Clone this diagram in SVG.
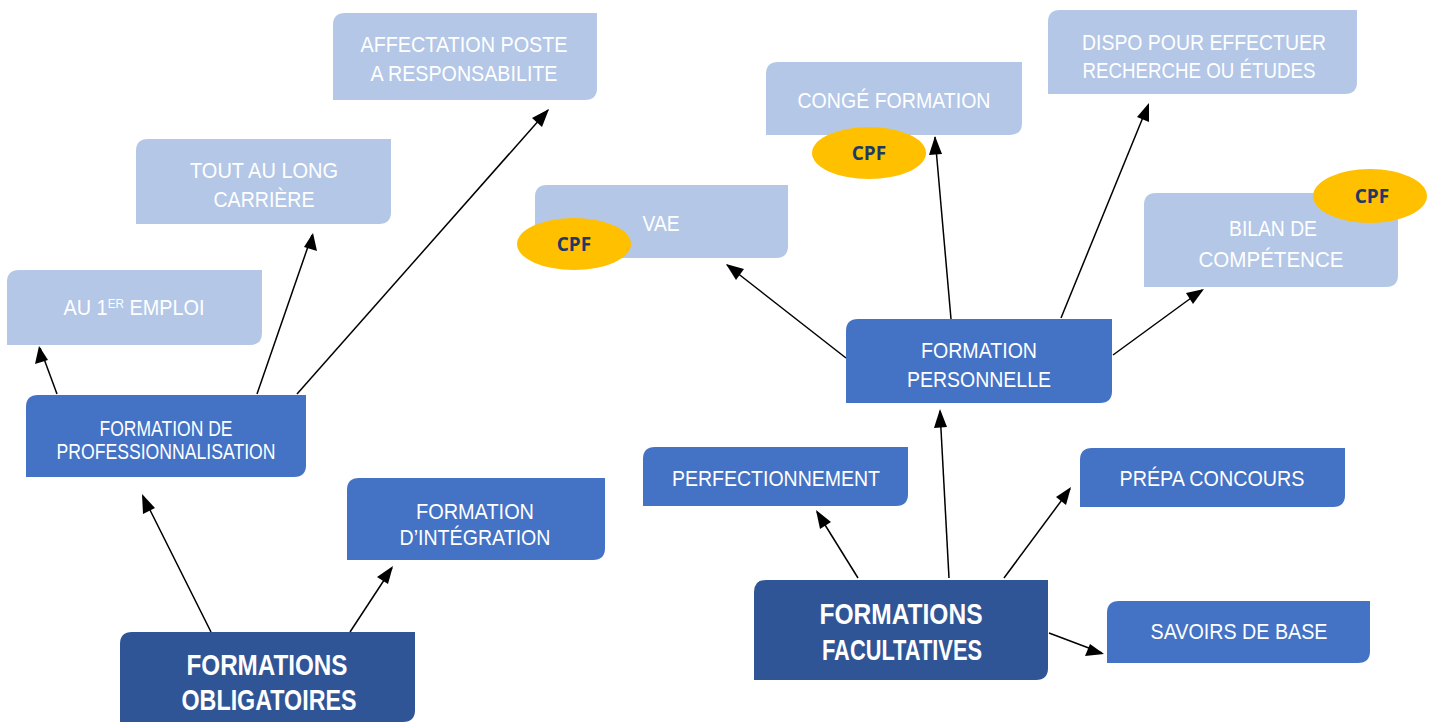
<svg xmlns="http://www.w3.org/2000/svg" width="1435" height="724" viewBox="0 0 1435 724">
<defs>
<style>
.light{fill:#B4C7E7}
.mid{fill:#4472C4}
.dark{fill:#2F5597}
.t{font-family:"Liberation Sans",Arial,sans-serif;font-size:22px;fill:#fff;text-anchor:middle}
.tb{font-family:"Liberation Sans",Arial,sans-serif;font-size:30px;font-weight:bold;fill:#fff;text-anchor:middle}
.cpf{fill:#FFC000}
.ct{font-family:"Open Sans","Liberation Sans",sans-serif;font-size:19px;font-weight:bold;fill:#1F3864;text-anchor:middle}
.c{stroke:#000;stroke-width:1.5;fill:none}
.h{fill:#000}
</style>
</defs>
<rect width="1435" height="724" fill="#fff"/>
<g id="connectors">
<line class="c" x1="57" y1="394" x2="40" y2="348"/>
<path class="h" d="M39,346 L48,360 L35,364 Z"/>
<line class="c" x1="257" y1="394" x2="312" y2="235"/>
<path class="h" d="M313,233 L317,251 L304,247 Z"/>
<line class="c" x1="297" y1="394" x2="548" y2="110"/>
<path class="h" d="M549,109 L542,127 L532,118 Z"/>
<line class="c" x1="211" y1="632" x2="143" y2="496"/>
<path class="h" d="M142,494 L155,508 L143,514 Z"/>
<line class="c" x1="350" y1="632" x2="392" y2="568"/>
<path class="h" d="M393,566 L388,584 L377,577 Z"/>
<line class="c" x1="846" y1="358" x2="727" y2="265"/>
<path class="h" d="M726,264 L744,269 L736,280 Z"/>
<line class="c" x1="951" y1="319" x2="935" y2="137"/>
<path class="h" d="M935,136 L942,154 L929,155 Z"/>
<line class="c" x1="1061" y1="318" x2="1148" y2="105"/>
<path class="h" d="M1149,103 L1149,122 L1137,117 Z"/>
<line class="c" x1="1113" y1="355" x2="1202" y2="290"/>
<path class="h" d="M1204,289 L1193,304 L1186,293 Z"/>
<line class="c" x1="949" y1="578" x2="940" y2="411"/>
<path class="h" d="M940,409 L947,427 L934,428 Z"/>
<line class="c" x1="858" y1="578" x2="817" y2="512"/>
<path class="h" d="M816,510 L831,522 L820,529 Z"/>
<line class="c" x1="1004" y1="578" x2="1070" y2="489"/>
<path class="h" d="M1071,487 L1066,505 L1056,497 Z"/>
<line class="c" x1="1049" y1="633" x2="1102" y2="653"/>
<path class="h" d="M1104,654 L1085,656 L1090,644 Z"/>
</g>
<g id="n-au1er">
<path class="light" d="M19,270 H262 V333 Q262,345 250,345 H7 V282 Q7,270 19,270 Z"/>
<text class="t" x="134" y="315" font-size="20" textLength="141" lengthAdjust="spacingAndGlyphs">AU 1<tspan font-size="13" dy="-7">ER</tspan><tspan dy="7"> EMPLOI</tspan></text>
</g>
<g id="n-prof">
<path class="mid" d="M38,395 H306 V465 Q306,477 294,477 H26 V407 Q26,395 38,395 Z"/>
<text class="t" x="166" y="436" font-size="24" textLength="133" lengthAdjust="spacingAndGlyphs">FORMATION DE</text>
<text class="t" x="166" y="459" font-size="24" textLength="219" lengthAdjust="spacingAndGlyphs">PROFESSIONNALISATION</text>
</g>
<g id="n-tout">
<path class="light" d="M148,139 H391 V212 Q391,224 379,224 H136 V151 Q136,139 148,139 Z"/>
<text class="t" x="264" y="178" textLength="148" lengthAdjust="spacingAndGlyphs">TOUT AU LONG</text>
<text class="t" x="264" y="207" textLength="101" lengthAdjust="spacingAndGlyphs">CARRIÈRE</text>
</g>
<g id="n-affect">
<path class="light" d="M345,13 H597 V88 Q597,100 585,100 H333 V25 Q333,13 345,13 Z"/>
<text class="t" x="464" y="52" textLength="207" lengthAdjust="spacingAndGlyphs">AFFECTATION POSTE</text>
<text class="t" x="464" y="81" textLength="187" lengthAdjust="spacingAndGlyphs">A RESPONSABILITE</text>
</g>
<g id="n-integ">
<path class="mid" d="M359,478 H605 V548 Q605,560 593,560 H347 V490 Q347,478 359,478 Z"/>
<text class="t" x="475" y="519" textLength="118" lengthAdjust="spacingAndGlyphs">FORMATION</text>
<text class="t" x="475" y="545" textLength="151" lengthAdjust="spacingAndGlyphs">D’INTÉGRATION</text>
</g>
<g id="n-oblig">
<path class="dark" d="M132,632 H415 V710 Q415,722 403,722 H120 V644 Q120,632 132,632 Z"/>
<text class="tb" x="267" y="675" textLength="161" lengthAdjust="spacingAndGlyphs">FORMATIONS</text>
<text class="tb" x="269" y="710" textLength="175" lengthAdjust="spacingAndGlyphs">OBLIGATOIRES</text>
</g>
<g id="n-vae">
<path class="light" d="M547,185 H788 V246 Q788,258 776,258 H535 V197 Q535,185 547,185 Z"/>
<text class="t" x="661" y="231" textLength="37" lengthAdjust="spacingAndGlyphs">VAE</text>
<ellipse class="cpf" cx="574" cy="244" rx="57" ry="26"/>
<text class="ct" x="574" y="251">CPF</text>
</g>
<g id="n-conge">
<path class="light" d="M778,62 H1022 V123 Q1022,135 1010,135 H766 V74 Q766,62 778,62 Z"/>
<text class="t" x="894" y="108" textLength="193" lengthAdjust="spacingAndGlyphs">CONGÉ FORMATION</text>
<ellipse class="cpf" cx="869" cy="153" rx="57" ry="26"/>
<text class="ct" x="869" y="160">CPF</text>
</g>
<g id="n-dispo">
<path class="light" d="M1060,10 H1357 V82 Q1357,94 1345,94 H1048 V22 Q1048,10 1060,10 Z"/>
<text class="t" x="1204" y="50" textLength="244" lengthAdjust="spacingAndGlyphs">DISPO POUR EFFECTUER</text>
<text class="t" x="1199" y="78" textLength="233" lengthAdjust="spacingAndGlyphs">RECHERCHE OU ÉTUDES</text>
</g>
<g id="n-bilan">
<path class="light" d="M1156,193 H1398 V275 Q1398,287 1386,287 H1144 V205 Q1144,193 1156,193 Z"/>
<text class="t" x="1273" y="236" textLength="88" lengthAdjust="spacingAndGlyphs">BILAN DE</text>
<text class="t" x="1271" y="267" textLength="145" lengthAdjust="spacingAndGlyphs">COMPÉTENCE</text>
<ellipse class="cpf" cx="1370" cy="196" rx="57" ry="27"/>
<text class="ct" x="1372" y="203">CPF</text>
</g>
<g id="n-perso">
<path class="mid" d="M858,319 H1112 V391 Q1112,403 1100,403 H846 V331 Q846,319 858,319 Z"/>
<text class="t" x="979" y="358" textLength="116" lengthAdjust="spacingAndGlyphs">FORMATION</text>
<text class="t" x="979" y="387" textLength="144" lengthAdjust="spacingAndGlyphs">PERSONNELLE</text>
</g>
<g id="n-perf">
<path class="mid" d="M655,447 H908 V494 Q908,506 896,506 H643 V459 Q643,447 655,447 Z"/>
<text class="t" x="776" y="486" textLength="208" lengthAdjust="spacingAndGlyphs">PERFECTIONNEMENT</text>
</g>
<g id="n-prepa">
<path class="mid" d="M1092,448 H1345 V495 Q1345,507 1333,507 H1080 V460 Q1080,448 1092,448 Z"/>
<text class="t" x="1212" y="486" textLength="185" lengthAdjust="spacingAndGlyphs">PRÉPA CONCOURS</text>
</g>
<g id="n-facult">
<path class="dark" d="M766,580 H1048 V668 Q1048,680 1036,680 H754 V592 Q754,580 766,580 Z"/>
<text class="tb" x="901" y="624" textLength="163" lengthAdjust="spacingAndGlyphs">FORMATIONS</text>
<text class="tb" x="902" y="660" textLength="160" lengthAdjust="spacingAndGlyphs">FACULTATIVES</text>
</g>
<g id="n-savoirs">
<path class="mid" d="M1119,601 H1370 V651 Q1370,663 1358,663 H1107 V613 Q1107,601 1119,601 Z"/>
<text class="t" x="1239" y="639" textLength="177" lengthAdjust="spacingAndGlyphs">SAVOIRS DE BASE</text>
</g>
</svg>
